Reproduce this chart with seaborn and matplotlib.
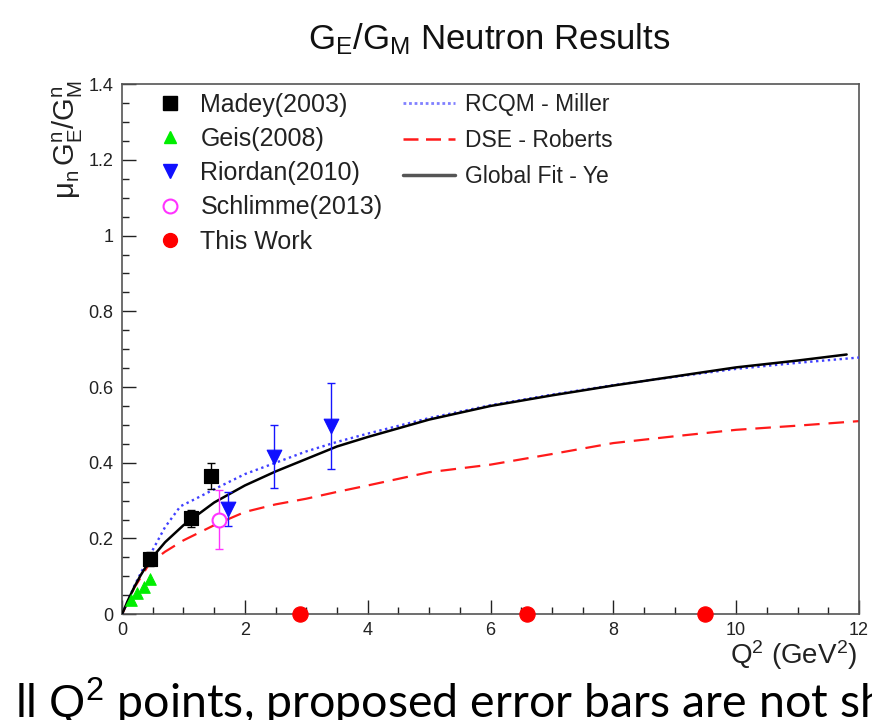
import numpy as np
import pandas as pd
import matplotlib
matplotlib.use("Agg")
import matplotlib.pyplot as plt
from matplotlib.lines import Line2D
from matplotlib.ticker import MultipleLocator, FuncFormatter
import seaborn as sns

# ---------------- data ----------------
madey_q2 = [0.45, 1.13, 1.45]
madey_r = [0.146, 0.253, 0.365]
madey_err = [0.018, 0.022, 0.034]

geis_q2 = [0.15, 0.25, 0.35, 0.45]
geis_r = [0.038, 0.055, 0.072, 0.092]
geis_err = [0.006, 0.007, 0.008, 0.009]

riordan_q2 = [1.72, 2.48, 3.41]
riordan_r = [0.278, 0.416, 0.498]
riordan_err = [0.045, 0.083, 0.114]

schlimme_q2 = [1.58]
schlimme_r = [0.250]
schlimme_err = [0.077]

thiswork_q2 = [2.9, 6.6, 9.5]
thiswork_r = [0.0, 0.0, 0.0]

ye_q2 = [0, 0.1, 0.2, 0.3, 0.45, 0.7, 1.0, 1.5, 2.0, 2.5, 3.0, 3.5, 4.0, 5.0,
         6.0, 7.0, 8.0, 9.0, 10.0, 11.0, 11.8]
ye_r = [0, 0.038, 0.072, 0.102, 0.142, 0.19, 0.235, 0.295, 0.34, 0.377, 0.41,
        0.443, 0.468, 0.514, 0.55, 0.578, 0.604, 0.628, 0.652, 0.670, 0.686]

miller_q2 = [0, 0.2, 0.45, 0.7, 0.95, 1.2, 1.5, 2.0, 2.5, 3.0, 3.5, 4.0, 5.0,
             6.0, 7.0, 8.0, 9.0, 10.0, 11.0, 12.0]
miller_r = [0, 0.075, 0.155, 0.23, 0.285, 0.305, 0.33, 0.37, 0.40, 0.43, 0.455,
            0.477, 0.518, 0.552, 0.58, 0.605, 0.627, 0.648, 0.664, 0.678]

roberts_q2 = [0, 0.2, 0.45, 0.7, 1.0, 1.5, 2.0, 2.5, 3.0, 3.5, 4.0, 5.0, 6.0,
              7.0, 8.0, 9.0, 10.0, 11.0, 12.0]
roberts_r = [0, 0.07, 0.135, 0.165, 0.195, 0.235, 0.27, 0.29, 0.305, 0.323,
             0.34, 0.375, 0.395, 0.423, 0.452, 0.47, 0.487, 0.498, 0.51]

# ---------------- style ----------------
sns.set_theme(style="ticks")
plt.rcParams['font.family'] = ['Liberation Sans', 'DejaVu Sans']
plt.rcParams['mathtext.fontset'] = 'custom'
plt.rcParams['mathtext.rm'] = 'Liberation Sans'
plt.rcParams['mathtext.it'] = 'Liberation Sans'
plt.rcParams['mathtext.default'] = 'rm'

fig = plt.figure(figsize=(8.72, 7.2), dpi=100)
ax = fig.add_axes([0.140, 0.147, 0.845, 0.736])

BLUE_DOT = '#4040ff'
RED = '#ff1a1a'

ye_df = pd.DataFrame({'q2': ye_q2, 'r': ye_r})
mi_df = pd.DataFrame({'q2': miller_q2, 'r': miller_r})
ro_df = pd.DataFrame({'q2': roberts_q2, 'r': roberts_r})

sns.lineplot(data=ro_df, x='q2', y='r', ax=ax, color=RED, lw=1.6,
             linestyle=(0, (7, 4)), zorder=2)
sns.lineplot(data=mi_df, x='q2', y='r', ax=ax, color=BLUE_DOT, lw=1.7,
             linestyle=(0, (1, 1.5)), zorder=3)
sns.lineplot(data=ye_df, x='q2', y='r', ax=ax, color='black', lw=1.8, zorder=4)

# error bars
ax.errorbar(madey_q2, madey_r, yerr=madey_err, fmt='none', ecolor='black',
            elinewidth=1, capsize=3, zorder=5)
ax.errorbar(riordan_q2, riordan_r, yerr=riordan_err, fmt='none', ecolor='#1515ff',
            elinewidth=1, capsize=3, zorder=5)
ax.errorbar(schlimme_q2, schlimme_r, yerr=schlimme_err, fmt='none', ecolor='#ff33ff',
            elinewidth=1, capsize=3, zorder=5)
ax.errorbar(geis_q2, geis_r, yerr=geis_err, fmt='none', ecolor='#00dd00',
            elinewidth=1, capsize=0, zorder=5)

sns.scatterplot(x=madey_q2, y=madey_r, ax=ax, marker='s', s=110, color='black',
                edgecolor='black', zorder=6)
sns.scatterplot(x=geis_q2, y=geis_r, ax=ax, marker='^', s=70, color='#00ee00',
                edgecolor='#00ee00', zorder=6)
sns.scatterplot(x=riordan_q2, y=riordan_r, ax=ax, marker='v', s=110, color='#1010ff',
                edgecolor='#1010ff', zorder=6)
ax.plot(schlimme_q2, schlimme_r, 'o', ms=10, mfc='white', mec='#ff33ff', mew=1.5, zorder=6)
sns.scatterplot(x=thiswork_q2, y=thiswork_r, ax=ax, marker='o', s=120, color='#ff0000',
                edgecolor='#ff0000', zorder=7, clip_on=False)

# axes
ax.set_xlim(0, 12)
ax.set_ylim(0, 1.4)
ax.xaxis.set_major_locator(MultipleLocator(2))
ax.xaxis.set_minor_locator(MultipleLocator(0.5))
ax.yaxis.set_major_locator(MultipleLocator(0.2))
ax.yaxis.set_minor_locator(MultipleLocator(0.05))
fmt = FuncFormatter(lambda v, p: ('%g' % round(v, 2)))
ax.xaxis.set_major_formatter(fmt)
ax.yaxis.set_major_formatter(fmt)
ax.tick_params(which='both', direction='in', top=False, right=False, labelsize=13,
               colors='#222222', width=1)
ax.tick_params(which='major', length=10, pad=6)
ax.tick_params(which='minor', length=5)
for sp in ax.spines.values():
    sp.set_color('#555555')
    sp.set_linewidth(1.2)
ax.set_xlabel('')
ax.set_ylabel('')

fig.text(0.983, 0.090, r'Q$^{2}$ (GeV$^{2}$)', ha='right', va='center', fontsize=20,
         color='#222222')
fig.text(0.078, 0.888, r'$\mu_{n}\,G_{E}^{n}/G_{M}^{n}$', rotation=90, ha='center',
         va='top', fontsize=21, color='#222222')
fig.text(0.561, 0.945, r'G$_{E}$/G$_{M}$ Neutron Results', ha='center', va='center',
         fontsize=25, color='#111111')

# legends
h1 = [
    Line2D([], [], marker='s', ls='none', color='black', ms=10),
    Line2D([], [], marker='^', ls='none', color='#00ee00', ms=8),
    Line2D([], [], marker='v', ls='none', color='#1010ff', ms=10),
    Line2D([], [], marker='o', ls='none', mfc='white', mec='#ff33ff', mew=1.5, ms=10),
    Line2D([], [], marker='o', ls='none', color='#ff0000', ms=10),
]
l1 = ['Madey(2003)', 'Geis(2008)', 'Riordan(2010)', 'Schlimme(2013)', 'This Work']
leg1 = ax.legend(h1, l1, loc='upper left', bbox_to_anchor=(0.035, 1.003), frameon=False,
                 fontsize=18, labelspacing=0.41, handlelength=1.0, handletextpad=0.7,
                 borderaxespad=0)
for t in leg1.get_texts():
    t.set_color('#222222')
ax.add_artist(leg1)

h2 = [
    Line2D([], [], color='#8080ff', lw=2, ls=(0, (1, 1))),
    Line2D([], [], color=RED, lw=1.8, ls=(0, (6, 3))),
    Line2D([], [], color='#555555', lw=2.5),
]
l2 = ['RCQM - Miller', 'DSE - Roberts', 'Global Fit - Ye']
leg2 = ax.legend(h2, l2, loc='upper left', bbox_to_anchor=(0.369, 1.0), frameon=False,
                 fontsize=16.5, labelspacing=0.55, handlelength=2.27, handletextpad=0.44,
                 borderaxespad=0)
for t in leg2.get_texts():
    t.set_color('#222222')

# cropped slide caption at the bottom
fig.text(0.017, 0.004, r'll $Q^2$ points, proposed error bars are not sh',
         ha='left', va='baseline', fontsize=33.5, color='black', family='Lato')

fig.savefig('out.png', dpi=100)
